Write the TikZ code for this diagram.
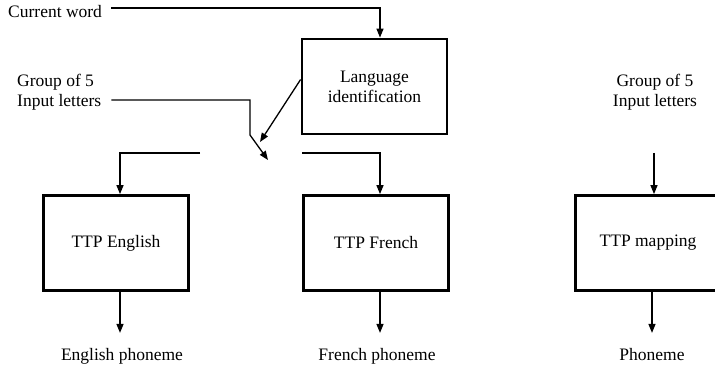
\documentclass[tikz,border=0pt]{standalone}
\usepackage{fontspec}
\setmainfont{Liberation Serif}
\usetikzlibrary{arrows.meta}
\begin{document}
\begin{tikzpicture}[x=1pt,y=-1pt,
  font=\fontsize{17.5}{20}\selectfont,
  ttpbox/.style={draw=black, line width=2.8pt, minimum width=145pt, minimum height=95pt, align=center, inner sep=0pt},
  lbl/.style={inner sep=0pt, align=center},
  wire/.style={line width=1.3pt},
  feed/.style={wire, -{Triangle[length=9pt,width=7pt]}}]
\useasboundingbox (0,0) rectangle (715,366);
\pgfmathsetmacro\boxrow{243}
\node[ttpbox] (lang) at (374.5,86.5) {Language\\identification};
\node[ttpbox] (eng) at (116,\boxrow) {TTP English};
\node[ttpbox] (fr) at (376,\boxrow) {TTP French};
\node[ttpbox] (map) at (648,\boxrow) {TTP mapping};
\node[lbl, anchor=base west] (cw) at (8,18) {Current word};
\node[lbl, anchor=west, align=left] (grpa) at (17,92) {Group of 5\\Input letters};
\node[lbl] (grpb) at (655,92) {Group of 5\\Input letters};
\node[lbl, anchor=base] (engout) at (122,360) {English phoneme};
\node[lbl, anchor=base] (frout) at (377,360) {French phoneme};
\node[lbl, anchor=base] (phon) at (652,360) {Phoneme};
\coordinate (bend) at (250,100);
\coordinate (knee) at (250,135);
\coordinate (swtip) at (268,160);
\coordinate (ctltip) at (260,142);
\coordinate (swl) at (200,153);
\coordinate (swr) at (302,153);
\coordinate (grpbtail) at (654,153);
\draw[feed] ([xshift=9pt,yshift=4pt]cw.east) -| ([xshift=5.5pt]lang.north);
\draw[feed] ([xshift=10pt,yshift=-8pt]grpa.east) -- (bend) -- (knee) -- (swtip);
\draw[feed] ([yshift=7pt]lang.west) -- (ctltip);
\draw[feed] (swl) -| ([xshift=4pt]eng.north);
\draw[feed] (swr) -| ([xshift=4pt]fr.north);
\draw[feed] (grpbtail) -- ([xshift=6pt]map.north);
\foreach \blk/\out in {eng/engout,fr/frout,map/phon}
  \draw[feed] ([xshift=4pt]\blk.south) -- ++(0,41);
\end{tikzpicture}
\end{document}
